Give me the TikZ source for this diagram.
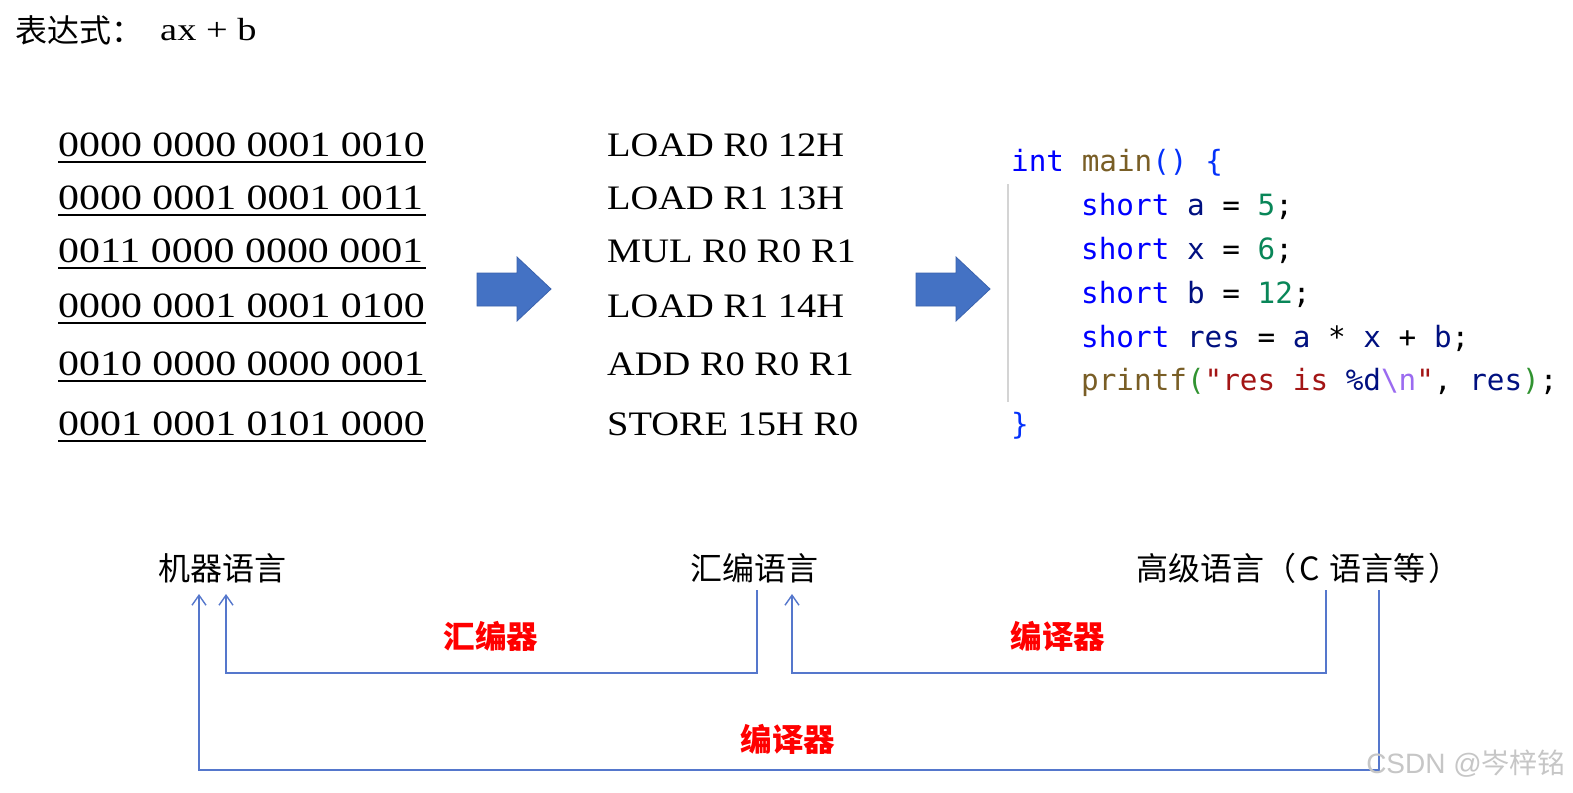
\documentclass[tikz,border=0pt]{standalone}
\usepackage{fontspec}
\usetikzlibrary{arrows.meta}
\setmainfont{Liberation Serif}
\newfontfamily\cjk{Noto Sans CJK SC}
\newfontfamily\binfont[FakeStretch=1.18]{Liberation Serif}
\newfontfamily\asmfont[FakeStretch=1.12]{Liberation Serif}
\newfontfamily\exprfont[FakeStretch=1.2]{Liberation Serif}
\newfontfamily\codefont{DejaVu Sans Mono}
\newfontfamily\markfont{Liberation Sans}

% code colours
\definecolor{kw}{HTML}{0000FF}
\definecolor{fn}{HTML}{795E26}
\definecolor{var}{HTML}{001080}
\definecolor{num}{HTML}{098658}
\definecolor{str}{HTML}{A31515}
\definecolor{esc}{HTML}{9B6BF0}
\definecolor{brA}{HTML}{0431FA}
\definecolor{brB}{HTML}{319331}
% figure colours
\definecolor{arrowblue}{HTML}{4472C4}
\definecolor{arrowedge}{HTML}{3A62AD}
\definecolor{linkblue}{HTML}{5577CC}
\definecolor{guidegray}{HTML}{D4D4D4}

\tikzset{
  bin/.style={anchor=base west, inner sep=0pt, font=\binfont\fontsize{35.5}{40}\selectfont},
  asm/.style={anchor=base west, inner sep=0pt, font=\asmfont\fontsize{34.3}{40}\selectfont},
  code/.style={anchor=base west, inner sep=0pt, font=\codefont\fontsize{29.3}{34}\selectfont},
  lang/.style={anchor=base west, inner sep=0pt, font=\cjk\fontsize{32}{36}\selectfont},
  tool/.style={anchor=base, inner sep=0pt, text=red, font=\cjk\bfseries\fontsize{31.5}{36}\selectfont},
  conn/.style={draw=linkblue, line width=1.4pt, -{Straight Barb[length=10pt,width=14pt]}},
  bigarrow/.style={fill=arrowblue, draw=arrowedge, line width=0.8pt},
  uline/.style={line width=1.6pt},
  guide/.style={draw=guidegray, line width=1.5pt},
}

\begin{document}
\begin{tikzpicture}[x=1pt,y=-1pt]
\useasboundingbox[fill=white] (0,0) rectangle (1573,792);

% heading
\node[lang] (title) at (15,43) {表达式：};
\node[anchor=base west, inner sep=0pt, font=\exprfont\fontsize{32}{36}\selectfont] (expr) at (160,41) {ax + b};

% machine code
\node[bin] (b1) at (58,156) {0000 0000 0001 0010};
\node[bin] (b2) at (58,209) {0000 0001 0001 0011};
\node[bin] (b3) at (58,262) {0011 0000 0000 0001};
\node[bin] (b4) at (58,317) {0000 0001 0001 0100};
\node[bin] (b5) at (58,375) {0010 0000 0000 0001};
\node[bin] (b6) at (58,435) {0001 0001 0101 0000};
\foreach \b in {b1,b2,b3,b4,b5,b6}
  \draw[uline] (\b.base west) ++(0,6) -- ++(368,0);

% assembly
\node[asm] (a1) at (607,156) {LOAD R0 12H};
\node[asm] (a2) at (607,209) {LOAD R1 13H};
\node[asm] (a3) at (607,262) {MUL R0 R0 R1};
\node[asm] (a4) at (607,317) {LOAD R1 14H};
\node[asm] (a5) at (607,375) {ADD R0 R0 R1};
\node[asm] (a6) at (607,435) {STORE 15H R0};

% block arrows
\path[bigarrow] (477,273) -- (517,273) -- (517,257) -- (551,289) -- (517,321)
  -- (517,306) -- (477,306) -- cycle;
\path[bigarrow] (916,273) -- (956,273) -- (956,257) -- (990,289) -- (956,321)
  -- (956,306) -- (916,306) -- cycle;

% C source
\draw[guide] (1008,184) -- (1008,402);
\node[code] (c1) at (1011,171) {{\color{kw}int} {\color{fn}main}{\color{brA}()} {\color{brA}\{}};
\node[code] (c2) at (1081,215) {{\color{kw}short} {\color{var}a} = {\color{num}5};};
\node[code] (c3) at (1081,259) {{\color{kw}short} {\color{var}x} = {\color{num}6};};
\node[code] (c4) at (1081,303) {{\color{kw}short} {\color{var}b} = {\color{num}12};};
\node[code] (c5) at (1081,347) {{\color{kw}short} {\color{var}res} = {\color{var}a} * {\color{var}x} + {\color{var}b};};
\node[code] (c6) at (1081,390) {{\color{fn}printf}{\color{brB}(}{\color{str}"res is }{\color{var}\%d}{\color{esc}\textbackslash n}{\color{str}"}, {\color{var}res}{\color{brB})};};
\node[code] (c7) at (1011,434) {{\color{brA}\}}};

% language levels
\node[lang] (mach) at (158,580) {机器语言};
\node[lang] (asml) at (690,580) {汇编语言};
\node[lang] (hll) at (1136,580) {高级语言（\kern3pt C\kern10pt 语言等\kern3pt）};

\coordinate (asmOut) at (757,590);
\coordinate (hllOutA) at (1326,590);
\coordinate (hllOutB) at (1379,590);
\coordinate (machInA) at (226,594);
\coordinate (machInB) at (199,594);
\coordinate (asmIn) at (792,594);

\draw[conn] (asmOut) -- ++(0,83) -| (machInA);
\draw[conn] (hllOutA) -- ++(0,83) -| (asmIn);
\draw[conn] (hllOutB) -- ++(0,180) -| (machInB);

\node[tool] (t1) at (491,648) {汇编器};
\node[tool] (t2) at (1058,648) {编译器};
\node[tool] (t3) at (788,751) {编译器};

% signature
\node[anchor=base east, inner sep=0pt, text=gray!45, font=\fontsize{28}{30}\selectfont] (sig) at (1566,773) {\markfont CSDN @\cjk 岑梓铭};
\end{tikzpicture}
\end{document}
